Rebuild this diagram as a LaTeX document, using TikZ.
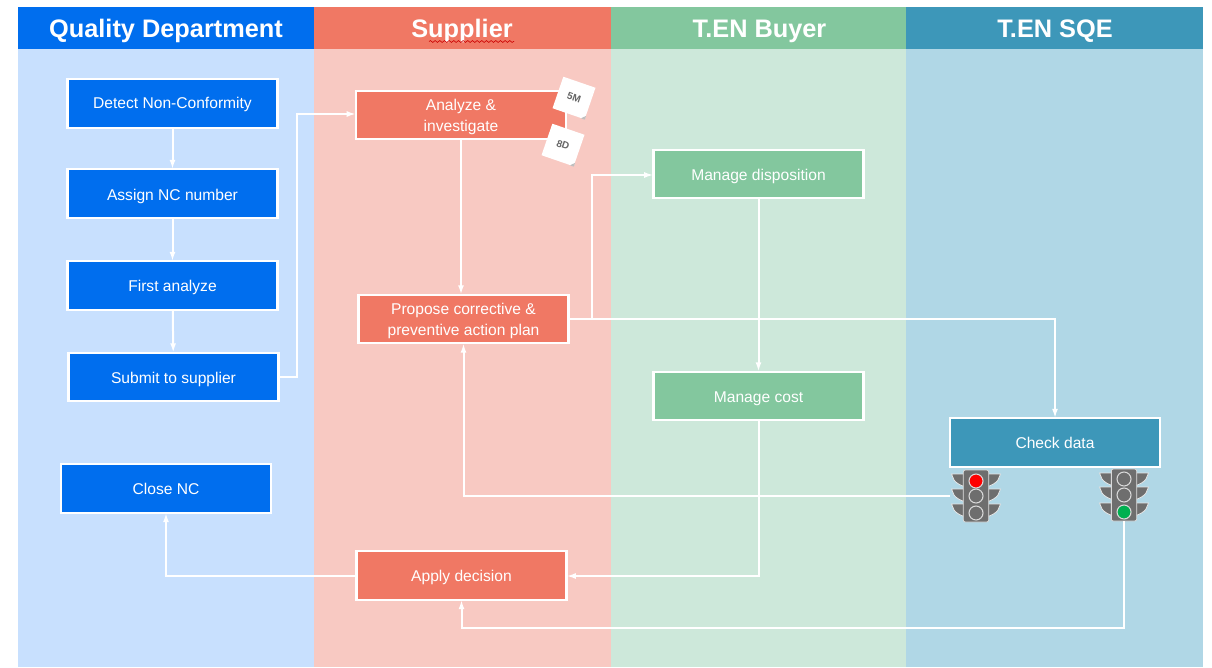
\documentclass[tikz,border=0pt]{standalone}
\usepackage{fontspec}
\setmainfont{Liberation Sans}
\usetikzlibrary{arrows.meta,decorations.pathmorphing,calc}
\definecolor{qdark}{HTML}{006EEE}
\definecolor{qlight}{HTML}{C8E0FE}
\definecolor{sdark}{HTML}{F07864}
\definecolor{slight}{HTML}{F8C9C2}
\definecolor{bdark}{HTML}{83C79E}
\definecolor{blight}{HTML}{CDE8DA}
\definecolor{edark}{HTML}{3D97B9}
\definecolor{elight}{HTML}{B0D7E6}
\definecolor{lampgrey}{HTML}{6E6E6E}
\tikzset{
  x=0.75pt,y=-0.75pt,
  lane/.style={draw=none,text=white,font=\fontsize{19}{22}\selectfont\bfseries,inner sep=0pt},
  stepbox/.style={draw=white,line width=1.6pt,text=white,minimum width=157.5pt,minimum height=36.5pt,inner sep=1pt,outer sep=0pt,align=center,font=\fontsize{11.7}{15.8}\selectfont},
  lowtext/.style={execute at begin node={\rule{0pt}{#1}}},
  flow/.style={draw=white,line width=1.5pt,-{Latex[length=7pt,width=4.5pt]}},
  sticky/.style={fill=white,minimum width=25.5pt,minimum height=25pt,inner sep=0pt,text=black!60,font=\fontsize{7.5}{8}\selectfont\bfseries},
  fold/.style={fill=black!25,draw=none},
  housing/.style={fill=lampgrey,draw=white!85!black,line width=.6pt,rounded corners=1.5pt,minimum width=19pt,minimum height=39pt,inner sep=0pt,outer sep=0pt},
  lamp/.style={circle,draw=white!85!black,line width=.8pt,minimum size=10.5pt,inner sep=0pt},
  visor/.style={fill=lampgrey,draw=white!90!black,line width=.6pt}
}
\newcommand{\lowline}[1]{\raisebox{-1.5pt}[8.5pt][2.5pt]{#1}}
% #1 centre x, #2 list of visor top y values
\newcommand{\visors}[2]{%
  \foreach \vy in {#2}{
    \draw[visor] (#1-12,\vy) -- (#1-24.5,\vy) -- (#1-22,\vy+6) .. controls (#1-20,\vy+9) and (#1-16,\vy+11) .. (#1-12,\vy+12.5) -- cycle;
    \draw[visor] (#1+12,\vy) -- (#1+24.5,\vy) -- (#1+22,\vy+6) .. controls (#1+20,\vy+9) and (#1+16,\vy+11) .. (#1+12,\vy+12.5) -- cycle;
  }}
\begin{document}
\begin{tikzpicture}
\useasboundingbox (0,0) rectangle (1212,667);
\fill[white] (0,0) rectangle (1212,667);
% lanes
\fill[qlight] (18,49) rectangle (314,667);
\fill[slight] (314,49) rectangle (611,667);
\fill[blight] (611,49) rectangle (906,667);
\fill[elight] (906,49) rectangle (1203,667);
\fill[qdark] (18,7) rectangle (314,49);
\fill[sdark] (314,7) rectangle (611,49);
\fill[bdark] (611,7) rectangle (906,49);
\fill[edark] (906,7) rectangle (1203,49);
\node[lane] (hq) at (166,31) {Quality Department};
\node[lane] (hs) at (462,31) {Supplier};
\node[lane] (hb) at (759.5,31) {T.EN Buyer};
\node[lane] (he) at (1055,31) {T.EN SQE};
\draw[red!80!black,line width=.45pt,decorate,decoration={snake,amplitude=.7pt,segment length=3.5pt}] (429,41.5) -- (514,41.5);
% boxes
\node[stepbox,fill=qdark,lowtext=10pt] (detect) at (172.5,103.5) {Detect Non-Conformity};
\node[stepbox,fill=qdark,lowtext=12.5pt] (assign) at (172.5,193.5) {Assign NC number};
\node[stepbox,fill=qdark,lowtext=11.5pt] (first) at (172.5,285.5) {First analyze};
\node[stepbox,fill=qdark,lowtext=11.5pt] (submit) at (173.5,377) {Submit to supplier};
\node[stepbox,fill=qdark] (close) at (166,488.5) {Close NC};
\node[stepbox,fill=sdark] (analyze) at (461,115) {\lowline{Analyze \&}\\\lowline{investigate}};
\node[stepbox,fill=sdark] (propose) at (463.5,319) {\lowline{Propose corrective \&}\\\lowline{preventive action plan}};
\node[stepbox,fill=sdark,lowtext=11.5pt] (apply) at (461.5,575.5) {Apply decision};
\node[stepbox,fill=bdark,lowtext=11.5pt] (disp) at (758.5,174) {Manage disposition};
\node[stepbox,fill=bdark,lowtext=11.5pt] (cost) at (758.5,396) {Manage cost};
\node[stepbox,fill=edark] (check) at (1055,442.5) {Check data};
% stickies
\node[sticky,rotate=-19] (s5m) at (574,98) {5M};
\fill[fold] (s5m.south east) -- ++(-3.8,-1.3) -- ++(5.1,-2.5) -- cycle;
\node[sticky,rotate=-19] (s8d) at (563,145) {8D};
\fill[fold] (s8d.south east) -- ++(-3.8,-1.3) -- ++(5.1,-2.5) -- cycle;
% traffic lights
\visors{976}{474,489,504}
\node[housing] (redlight) at (976,496) {};
\node[lamp,fill=red] (r1) at (976,481) {};
\node[lamp,fill=lampgrey] (r2) at (976,496) {};
\node[lamp,fill=lampgrey] (r3) at (976,513) {};
\visors{1124}{473,487,503}
\node[housing] (greenlight) at (1124,495) {};
\node[lamp,fill=lampgrey] (g1) at (1124,479) {};
\node[lamp,fill=lampgrey] (g2) at (1124,495) {};
\node[lamp,fill={rgb,255:red,0;green,176;blue,80}] (g3) at (1124,512) {};
\coordinate (redleft) at (950,496);
% connectors
\draw[flow] (detect) -- (assign);
\draw[flow] (assign) -- (first);
\draw[flow] (first) -- (submit);
\draw[flow] (submit.east) -- (297,377) -- (297,114) -- (analyze.west |- 0,114);
\draw[flow] (analyze.south) -- (analyze.south |- propose.north);
\draw[flow] (propose.east) -- (592,319) -- (592,175) -- (disp.west |- 0,175);
\draw[flow] (propose.east) -- (check.north |- propose.east) -- (check.north);
\draw[flow] (disp) -- (cost);
\draw[flow] (cost.south) -- (758.5,576) -- (apply.east |- 0,576);
\draw[flow] (apply.west) -- (166,575.5) -- (close.south);
\draw[flow] (redleft) -- (463.5,496) -- (propose.south);
\draw[flow] (greenlight.south) -- (1124,628) -- (461.5,628) -- (apply.south);
\end{tikzpicture}
\end{document}
